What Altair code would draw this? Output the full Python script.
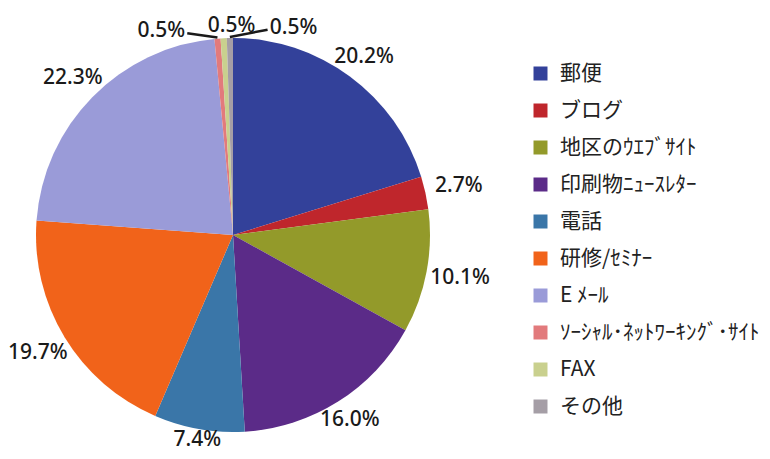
import altair as alt
import pandas as pd

categories = ["郵便", "ブログ", "地区のｳｴﾌﾞｻｲﾄ", "印刷物ﾆｭｰｽﾚﾀｰ", "電話", "研修/ｾﾐﾅｰ",
              "E ﾒｰﾙ", "ｿｰｼｬﾙ･ﾈｯﾄﾜｰｷﾝｸﾞ･ｻｲﾄ", "FAX", "その他"]
values = [20.2, 2.7, 10.1, 16.0, 7.4, 19.7, 22.3, 0.5, 0.5, 0.5]
colors = ["#33419a", "#bf262c", "#939a2a", "#5b2b88", "#3a76a8", "#f1631a",
          "#9a9bd8", "#e27a7c", "#c9d08e", "#a59ea6"]
labels = [f"{v:.1f}%" for v in values]

df = pd.DataFrame({"cat": categories, "value": values,
                   "idx": list(range(len(values))), "label": labels})

CX, CY, R = 225, 227, 197

base = alt.Chart(df)

pie = base.mark_arc(outerRadius=R).encode(
    theta=alt.Theta("value:Q", stack=True),
    order=alt.Order("idx:Q"),
    color=alt.Color(
        "cat:N",
        scale=alt.Scale(domain=categories, range=colors),
        legend=alt.Legend(
            orient="none", legendX=522, legendY=55, title=None,
            symbolType="square", symbolSize=196, symbolStrokeWidth=0,
            labelFont="Noto Sans CJK JP", labelFontSize=21, labelColor="#222222",
            rowPadding=15, labelOffset=9, padding=0, labelLimit=400,
        ),
    ),
    x=alt.value(CX),
    y=alt.value(CY),
)

calc = base.transform_window(
    cum="sum(value)", sort=[alt.SortField("idx")], frame=[None, 0]
).transform_joinaggregate(
    total="sum(value)"
).transform_calculate(
    mid="(datum.cum - datum.value/2)/datum.total*2*PI",
    nudge="datum.value < 1 ? (datum.idx == 7 ? -0.26 : (datum.idx == 8 ? 0.04 : 0.30)) : 0",
    a="datum.mid + datum.nudge",
    lr="datum.value < 1 ? (datum.idx == 8 ? 209 : 216) : 198 + 33*abs(sin(datum.a)) + 4*abs(cos(datum.a))",
    lx=f"{CX} + datum.lr*sin(datum.a)",
    ly=f"{CY} - datum.lr*cos(datum.a)",
    px=f"{CX} + {R + 1}*sin(datum.mid)",
    py=f"{CY} - {R + 1}*cos(datum.mid)",
    ex="datum.lx + (datum.nudge < 0 ? 26 : -26)",
    ey="datum.ly + 2",
)

text = calc.mark_text(
    font="Noto Sans", fontSize=21, fontWeight=500, color="#1a1a1a",
    align="center", baseline="middle",
).encode(
    x=alt.X("lx:Q", scale=None),
    y=alt.Y("ly:Q", scale=None),
    text="label:N",
)

leaders = calc.transform_filter(
    "datum.value < 1 && abs(datum.nudge) > 0.1"
).mark_rule(color="#1a1a1a", strokeWidth=2.5).encode(
    x=alt.X("px:Q", scale=None),
    y=alt.Y("py:Q", scale=None),
    x2="ex:Q",
    y2="ey:Q",
)

chart = alt.layer(pie, leaders, text).properties(
    width=754, height=443,
    autosize=alt.AutoSizeParams(type="none"),
    padding=0,
).configure_view(stroke=None)

chart.save("out.html", embed_options={"renderer": "svg", "actions": False})
